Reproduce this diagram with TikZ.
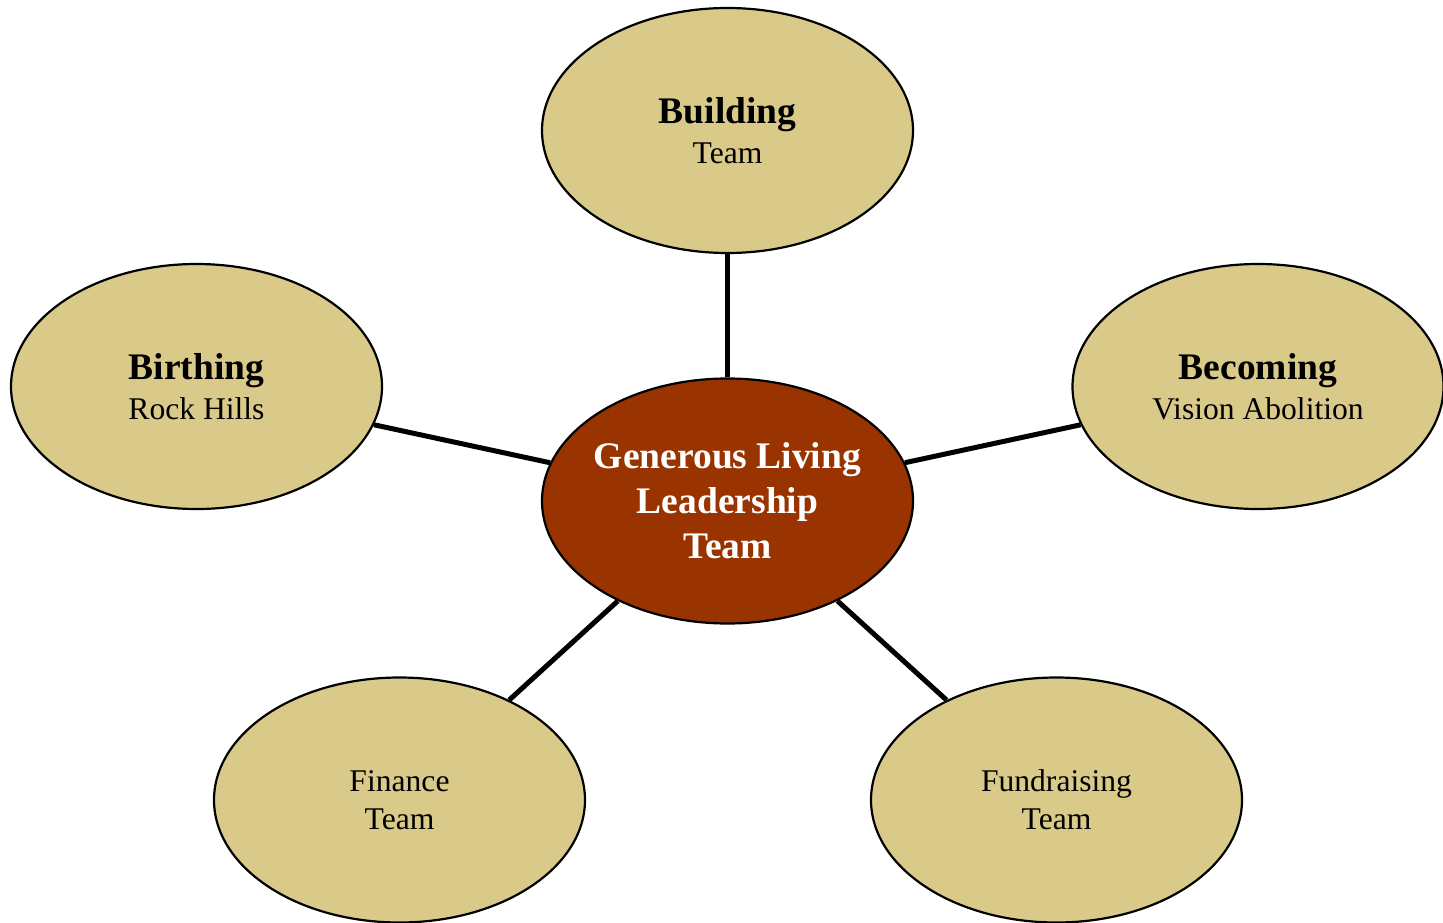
\documentclass[tikz,border=0pt]{standalone}
\usepackage{fontspec}
\setmainfont{Liberation Serif}
\usetikzlibrary{shapes.geometric}
\definecolor{tan}{RGB}{217,202,138}
\definecolor{rust}{RGB}{153,51,0}
\tikzset{
  bubble/.style={ellipse, draw=black, line width=2.2pt, fill=tan, minimum width=371pt, minimum height=245pt, inner sep=0pt, align=center, font=\fontsize{31.6}{40}\selectfont},
  hub/.style={bubble, fill=rust, text=white, inner xsep=-4pt, font=\fontsize{37.5}{45}\selectfont\bfseries},
  spoke/.style={line width=5pt, black}
}
\newcommand{\bigb}[1]{{\fontsize{37.5}{41}\selectfont\bfseries #1}}
\begin{document}
\begin{tikzpicture}[x=1pt,y=-1pt]
\useasboundingbox (0,0) rectangle (1443,923);
\node[hub] (c) at (727.5,501) {Generous Living\\Leadership\\Team};
\node[bubble] (build) at (727.5,130.5) {\bigb{Building}\\Team};
\node[bubble] (birth) at (196.5,386.5) {\bigb{Birthing}\\Rock Hills};
\node[bubble] (become) at (1258,386.5) {\bigb{Becoming}\\Vision Abolition};
\node[bubble] (fin) at (399.5,800) {Finance\\[-2pt]Team};
\node[bubble] (fund) at (1056.5,800) {Fundraising\\[-2pt]Team};
\draw[spoke] (c) -- (build);
\draw[spoke] (c) -- (birth);
\draw[spoke] (c) -- (become);
\draw[spoke] (c) -- (fin);
\draw[spoke] (c) -- (fund);
\end{tikzpicture}
\end{document}
